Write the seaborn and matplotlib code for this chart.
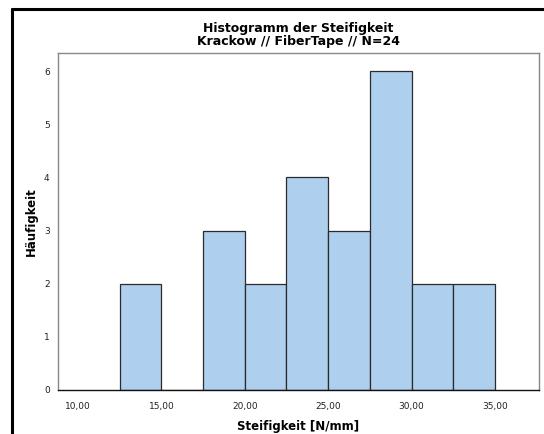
import numpy as np
import pandas as pd
import matplotlib
matplotlib.use("Agg")
import matplotlib.pyplot as plt
from matplotlib.lines import Line2D
import seaborn as sns

# Histogram values
bin_edges = [12.5, 15.0, 17.5, 20.0, 22.5, 25.0, 27.5, 30.0, 32.5, 35.0]
counts = [2, 0, 3, 2, 4, 3, 6, 2, 2]
x_ticks = [10, 15, 20, 25, 30, 35]
x_tick_labels = ["10,00", "15,00", "20,00", "25,00", "30,00", "35,00"]
y_ticks = [0, 1, 2, 3, 4, 5, 6]

sns.set_style("white")
plt.rcParams['font.family'] = ['DejaVu Sans']

centers = [(a + b) / 2 for a, b in zip(bin_edges[:-1], bin_edges[1:])]
df = pd.DataFrame({"Steifigkeit": centers, "n": counts})

fig = plt.figure(figsize=(5.44, 4.34), dpi=100)
ax = fig.add_axes([0.1066, 0.1014, 0.8842, 0.7765])

sns.histplot(data=df, x="Steifigkeit", weights="n", bins=bin_edges, ax=ax,
             color="#aecfee", alpha=1, edgecolor="#2b2b2b", linewidth=0.9)

ax.set_xlim(8.8, 37.64)
ax.set_ylim(0, 6.34)
ax.set_xticks(x_ticks)
ax.set_xticklabels(x_tick_labels)
ax.set_yticks(y_ticks)
ax.tick_params(axis="both", labelsize=6.5, length=4, width=0.8, direction="out",
               colors="#222222", pad=2)
ax.tick_params(axis="x", pad=5)
for side in ["top", "right", "left"]:
    ax.spines[side].set_color("#888888")
    ax.spines[side].set_linewidth(1.0)
ax.spines["bottom"].set_color("#111111")
ax.spines["bottom"].set_linewidth(1.0)

ax.set_xlabel("Steifigkeit [N/mm]", fontsize=8.5, fontweight="bold", labelpad=6,
              color="black")
ax.set_ylabel("Häufigkeit", fontsize=8.5, fontweight="bold", labelpad=4,
              color="black")
ax.set_title("Histogramm der Steifigkeit\nKrackow // FiberTape // N=24",
             fontsize=9, fontweight="bold", linespacing=0.95, pad=6, color="black")

# black frame of the screenshot (top and left)
fig.add_artist(Line2D([12 / 544, 1.0], [1 - 9 / 434, 1 - 9 / 434],
                      color="black", linewidth=2.2, transform=fig.transFigure))
fig.add_artist(Line2D([12 / 544, 12 / 544], [0, 1 - 9 / 434],
                      color="black", linewidth=2.2, transform=fig.transFigure))

fig.savefig("out.png", dpi=100)
